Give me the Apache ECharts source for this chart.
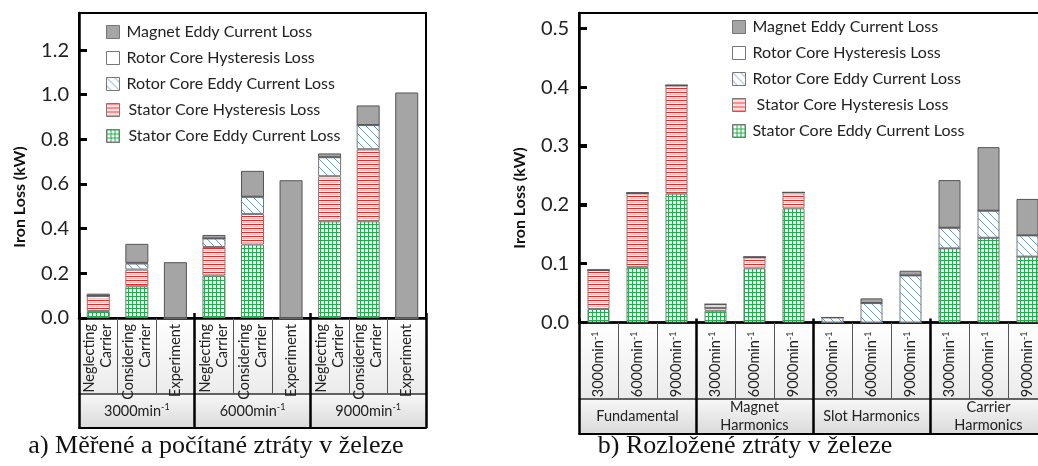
<!DOCTYPE html>
<html><head><meta charset="utf-8">
<script src="https://cdn.jsdelivr.net/npm/echarts@6/dist/echarts.min.js"></script>
<style>
html,body{margin:0;padding:0;background:#fff;overflow:hidden;width:1038px;height:466px}
#c{position:absolute;left:0;top:0;width:1050px;height:466px;z-index:2}
.bg{position:absolute;z-index:1}
.tk{position:absolute;z-index:5;background:#000;height:3px;width:8px}
</style>
</head><body><div id="bgs"></div><div id="c"></div><div id="tks"></div>
<script>
// ---------- data ----------
const catsA = ['Neglecting\nCarrier','Considering\nCarrier','Experiment',
               'Neglecting\nCarrier','Considering\nCarrier','Experiment',
               'Neglecting\nCarrier','Considering\nCarrier','Experiment'];
const groupsA = ['3000min-1','6000min-1','9000min-1'];
const catsB = ['3000min-1','6000min-1','9000min-1','3000min-1','6000min-1','9000min-1',
               '3000min-1','6000min-1','9000min-1','3000min-1','6000min-1','9000min-1'];
const groupsB = ['Fundamental','Magnet\nHarmonics','Slot Harmonics','Carrier\nHarmonics'];
const yTicksA = [0,0.2,0.4,0.6,0.8,1.0,1.2];
const yTicksB = [0,0.1,0.2,0.3,0.4,0.5];
const NAME_SE = 'Stator Core Eddy Current Loss';
const NAME_SH = 'Stator Core Hysteresis Loss';
const NAME_RE = 'Rotor Core Eddy Current Loss';
const NAME_RH = 'Rotor Core Hysteresis Loss';
const NAME_MG = 'Magnet Eddy Current Loss';
const legendOrder = [NAME_MG, NAME_RH, NAME_RE, NAME_SH, NAME_SE];

const statorEddyA = [0.031,0.142,0,0.190,0.329,0,0.433,0.433,0];
const statorHystA = [0.068,0.075,0,0.128,0.137,0,0.202,0.323,0];
const rotorEddyA  = [0,0.027,0,0.038,0.077,0,0.085,0.108,0];
const rotorHystA  = [0,0.003,0,0,0,0,0,0,0];
const magnetA     = [0.010,0.085,0.250,0.016,0.116,0.617,0.017,0.088,1.010];

const statorEddyB = [0.023,0.094,0.219,0.020,0.092,0.194,0,0,0,0.126,0.144,0.112];
const statorHystB = [0.066,0.126,0.184,0.005,0.019,0.027,0,0,0,0,0,0];
const rotorEddyB  = [0,0,0,0,0,0,0.0085,0.033,0.080,0.035,0.046,0.036];
const rotorHystB  = [0,0,0,0.006,0,0,0,0,0,0,0,0];
const magnetB     = [0,0,0,0,0,0,0,0.008,0.008,0.081,0.108,0.062];

// ---------- layout ----------
const FONT = 'Lato';
const CW = 1050, H = 466;
const GA = {left:79, right:CW-426, top:13, bottom:148};
const GB = {left:579, right:CW-1047, top:13, bottom:143.5};
const Y_MAX_A = 1.366, Y_MAX_B = 0.526;
const ROW1A = 76, ROW2A = 34, ROW1B = 76.5, ROW2B = 35;

// table background cells (CSS, behind the chart canvas)
function addBg(x, y, w, h1, h2){
  const bgs = document.getElementById('bgs');
  const r1 = document.createElement('div'); r1.className='bg';
  Object.assign(r1.style,{left:x+'px',top:y+'px',width:w+'px',height:h1+'px',background:'linear-gradient(#ffffff,#ebebeb)'});
  const r2 = document.createElement('div'); r2.className='bg';
  Object.assign(r2.style,{left:x+'px',top:(y+h1)+'px',width:w+'px',height:h2+'px',background:'linear-gradient(#f7f7f7,#dadada)'});
  bgs.appendChild(r1); bgs.appendChild(r2);
}
addBg(GA.left, H-GA.bottom, CW-GA.right-GA.left, ROW1A, ROW2A);
addBg(GB.left, H-GB.bottom, CW-GB.right-GB.left, ROW1B, ROW2B);

// ---------- patterns ----------
function tile(w,h,draw){const c=document.createElement('canvas');c.width=w;c.height=h;const g=c.getContext('2d');g.fillStyle='#fff';g.fillRect(0,0,w,h);draw(g);return {image:c,repeat:'repeat'};}
const patGreen = tile(4,4,g=>{g.fillStyle='#1fb04a';g.fillRect(0,0,4,1);g.fillRect(0,0,1,4);});
const patRed = tile(4,4,g=>{g.fillStyle='#ff1e1e';g.fillRect(0,0,4,1);g.fillStyle='#ffc0c0';g.fillRect(0,2,4,1);});
const patBlue = tile(8,8,g=>{g.strokeStyle='#6f9fd3';g.lineWidth=1;g.beginPath();g.moveTo(-1,-1);g.lineTo(9,9);g.moveTo(-1,7);g.lineTo(1,9);g.moveTo(7,-1);g.lineTo(9,1);g.stroke();});

const styles = {};
styles[NAME_SE] = {color:patGreen, borderColor:'#777', borderWidth:1};
styles[NAME_SH] = {color:patRed, borderColor:'#777', borderWidth:1};
styles[NAME_RE] = {color:patBlue, borderColor:'#777', borderWidth:1};
styles[NAME_RH] = {color:'#ffffff', borderColor:'#666', borderWidth:1};
styles[NAME_MG] = {color:'#a5a5a5', borderColor:'#555', borderWidth:1};

function supFmt(v){return String(v).replace('min-1','min{sup|-1}');}
const supRich = {sup:{fontSize:9, fontFamily:FONT, color:'#222', padding:[0,0,7,0]}};

function tableAxes(grid, cats, groups, r1, r2, sepUp, rotMargin){
  return [
    {gridIndex:grid, type:'category', data:cats, position:'bottom', offset:0,
     axisLine:{show:true, onZero:false, lineStyle:{color:'#000', width:2.5}},
     axisTick:{show:true, interval:0, length:r1, lineStyle:{color:'#555', width:1}},
     axisLabel:{interval:0, rotate:90, margin:rotMargin, fontSize:14.5, lineHeight:17, color:'#222', fontFamily:FONT,
                formatter:supFmt, rich:supRich}},
    {gridIndex:grid, type:'category', data:groups, position:'bottom', offset:r1,
     axisLine:{show:true, onZero:false, lineStyle:{color:'#333', width:1.5}},
     axisTick:{show:false},
     axisLabel:{interval:0, margin:r2/2, verticalAlign:'middle', fontSize:14.5, lineHeight:18, color:'#222', fontFamily:FONT,
                formatter:supFmt, rich:supRich}},
    {gridIndex:grid, type:'category', data:groups, position:'bottom', offset:-sepUp,
     axisLine:{show:false, onZero:false}, axisLabel:{show:false},
     axisTick:{show:true, interval:0, length:r1+r2+sepUp, lineStyle:{color:'#000', width:2.5}}},
    {gridIndex:grid, type:'category', data:groups, position:'bottom', offset:r1+r2,
     axisLine:{show:true, onZero:false, lineStyle:{color:'#000', width:2}}, axisTick:{show:false}, axisLabel:{show:false}}
  ];
}
function yAxis(grid, max, step){
  return {gridIndex:grid, type:'value', min:0, max:max, interval:step,
    axisLine:{show:true, lineStyle:{color:'#000', width:2.5}},
    axisTick:{show:true, inside:true, length:8, lineStyle:{color:'#000', width:3}},
    axisLabel:{showMaxLabel:false, formatter:v=>v.toFixed(1), fontSize:20, color:'#222', margin:10, fontFamily:FONT},
    splitLine:{show:false}};
}
function mkSeries(xi, yi, stack, arrs, bw){
  const names=[NAME_SE,NAME_SH,NAME_RE,NAME_RH,NAME_MG];
  return names.map((n,i)=>({type:'bar', name:n, xAxisIndex:xi, yAxisIndex:yi, stack:stack, barWidth:bw,
     data:arrs[i], itemStyle:styles[n], emphasis:{disabled:true}, animation:false}));
}
function legendFor(left, top, prefixes){
  return {left:left, top:top, orient:'vertical', icon:'rect', itemWidth:13, itemHeight:13, itemGap:10,
   data:legendOrder, selectedMode:false,
   itemStyle:{borderColor:'#777', borderWidth:1},
   formatter:n=>(prefixes[n]||'')+n,
   textStyle:{fontSize:16, fontFamily:FONT, color:'#222', padding:[0,0,0,2]}};
}
const preA = {}; preA[NAME_SH]='\u2009'; preA[NAME_SE]='\u2009';
const preB = {}; preB[NAME_SH]=' ';

const chart = echarts.init(document.getElementById('c'), null, {renderer:'canvas'});
chart.setOption({
  animation:false,
  backgroundColor:'transparent',
  grid:[
    Object.assign({show:true, borderColor:'#000', borderWidth:2, backgroundColor:'transparent'}, GA),
    Object.assign({show:true, borderColor:'#000', borderWidth:2, backgroundColor:'transparent'}, GB)
  ],
  xAxis: tableAxes(0, catsA, groupsA, ROW1A, ROW2A, 5, 6).concat(tableAxes(1, catsB, groupsB, ROW1B, ROW2B, 4, 9)),
  yAxis: [yAxis(0, Y_MAX_A, 0.2), yAxis(1, Y_MAX_B, 0.1)],
  legend:[legendFor(101, 19, preA), legendFor(727, 14, preB)],
  series: mkSeries(0,0,'a',[statorEddyA,statorHystA,rotorEddyA,rotorHystA,magnetA],23)
          .concat(mkSeries(4,1,'b',[statorEddyB,statorHystB,rotorEddyB,rotorHystB,magnetB],22)),
  graphic:[
    {type:'text', x:20, y:197, rotation:Math.PI/2, style:{text:'Iron Loss (kW)', fontSize:16, fontWeight:'bold', fontFamily:FONT, fill:'#111', align:'center', verticalAlign:'middle'}},
    {type:'text', x:520, y:198, rotation:Math.PI/2, style:{text:'Iron Loss (kW)', fontSize:16, fontWeight:'bold', fontFamily:FONT, fill:'#111', align:'center', verticalAlign:'middle'}},
    {type:'text', x:216, y:446, style:{text:'a) Měřené a počítané ztráty v železe', fontSize:26, fontFamily:'Liberation Serif', fill:'#111', align:'center', verticalAlign:'middle'}},
    {type:'text', x:745, y:446, style:{text:'b) Rozložené ztráty v železe', fontSize:26, fontFamily:'Liberation Serif', fill:'#111', align:'center', verticalAlign:'middle'}}
  ]
});

// inward tick marks on the value axes (DOM overlay), positioned through the axis scale
const tks = document.getElementById('tks');
[[0, yTicksA, GA, Y_MAX_A], [1, yTicksB, GB, Y_MAX_B]].forEach(([yi, ticks, g, mx]) => {
  ticks.forEach(v => {
    if (v === 0) return;
    let y = NaN;
    try { y = chart.convertToPixel({yAxisIndex: yi}, v); } catch (e) {}
    if (typeof y !== 'number' || !isFinite(y)) {
      const hgt = H - g.top - g.bottom;
      y = g.top + (1 - v / mx) * hgt;
    }
    const d = document.createElement('div'); d.className = 'tk';
    d.style.left = g.left + 'px'; d.style.top = (y - 1.5) + 'px';
    tks.appendChild(d);
  });
});
</script></body></html>
